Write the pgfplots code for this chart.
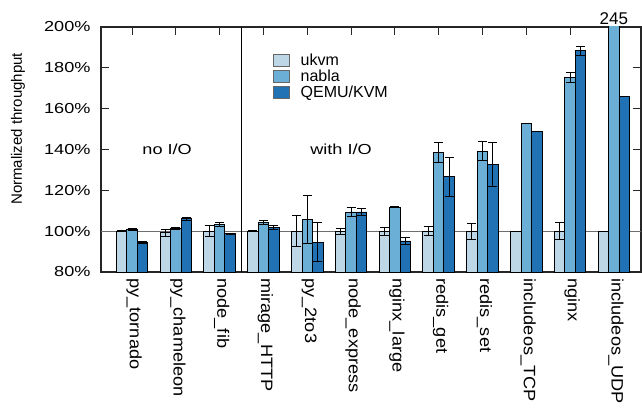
\documentclass[border=0pt]{standalone}
\usepackage{fontspec}
\setmainfont{Liberation Sans}
\newfontfamily\wide[FakeStretch=1.25]{Liberation Sans}
\newfontfamily\xwide[FakeStretch=1.1]{Liberation Sans}
\usepackage{pgfplots}
\usepackage{pgfplotstable}
\pgfplotsset{compat=1.18}
\definecolor{cuk}{RGB}{190,215,231}
\definecolor{cna}{RGB}{107,174,214}
\definecolor{cqe}{RGB}{33,113,181}
\definecolor{cgrid}{RGB}{110,110,110}

% x: 0 py_tornado, 1 py_chameleon, 2 node_fib, 3 mirage_HTTP, 4 py_2to3, 5 node_express,
%    6 nginx_large, 7 redis_get, 8 redis_set, 9 includeos_TCP, 10 nginx, 11 includeos_UDP
\pgfplotstableread{
x y e
0 100 0.3
1 99.2 1.6
2 100 2.8
3 100 0.3
4 100 7.5
5 100 1.5
6 100 2.0
7 100 2.3
8 100 4.0
9 100 0
10 100 4.1
11 100 0
}\tuk
\pgfplotstableread{
x y e
0 100.8 0.3
1 101.3 0.7
2 103.2 1.0
3 104.1 1.0
4 105.6 11.8
5 109.4 2.3
6 111.8 0.3
7 138.5 4.9
8 139.2 4.6
9 152.6 0
10 175.3 2.5
11 245 0
}\tna
\pgfplotstableread{
x y e
0 94.5 0.3
1 106.1 0.8
2 98.8 0.3
3 102.0 1.0
4 94.6 9.5
5 109.4 1.8
6 95.2 1.5
7 126.6 9.5
8 132.7 10.7
9 149.0 0
10 188.4 2.2
11 165.8 0
}\tqe

\pgfplotsset{
  mybar/.style={ybar, bar width=0.24, bar shift=0, draw=black, line width=0.9bp,
    legend image code/.code={\draw[##1, draw=black!60, line width=0.9bp] (0bp,-6bp) rectangle (16bp,6bp);
      \path[draw=none, fill=none] (16bp,0) -- (25bp,0);},
    error bars/y dir=both, error bars/y explicit,
    error bars/error bar style={black, line width=1bp},
    error bars/error mark options={rotate=90, black, mark size=4.5bp, line width=1bp}},
}

\begin{document}
\begin{tikzpicture}
\begin{axis}[
  scale only axis, width=540bp, height=245bp,
  xmin=-0.71, xmax=11.62, ymin=80, ymax=200,
  xtick={0,...,11},
  xticklabels={py\_tornado, py\_chameleon, node\_fib, mirage\_HTTP, py\_2to3, node\_express,
    nginx\_large, redis\_get, redis\_set, includeos\_TCP, nginx, includeos\_UDP},
  ytick={80,100,...,200},
  yticklabels={80\%,100\%,120\%,140\%,160\%,180\%,200\%},
  xtick pos=right, xticklabel pos=left, ytick pos=both, yticklabel pos=left,
  tick align=inside, major tick length=8bp,
  tick style={black!85, line width=1bp},
  axis line style={line width=1.2bp, black!85},
  clip mode=individual,
  ticklabel style={font=\wide\fontsize{14.5bp}{17bp}\selectfont},
  xticklabel style={font=\xwide\fontsize{16.5bp}{19bp}\selectfont, rotate=-90, anchor=west, xshift=3bp, yshift=2bp},
  yticklabel style={xshift=-7bp},
  ylabel={Normalized throughput},
  ylabel style={at={(rel axis cs:-0.1537,0.584)}, anchor=center, font=\fontsize{15bp}{18bp}\selectfont},
  legend style={at={(rel axis cs:0.3185,0.9)}, anchor=north west, draw=none, fill=none,
    font=\fontsize{16bp}{18bp}\selectfont, row sep=-1bp, inner sep=0pt,
    cells={anchor=west}},
]
\draw[cgrid, line width=1.2bp] (axis cs:-0.71,100) -- (axis cs:11.62,100);
\draw[black, line width=1bp] (axis cs:2.5,80) -- (axis cs:2.5,200);

\addplot[mybar, fill=cuk] table[x expr=\thisrow{x}-0.24, y=y, y error=e] {\tuk};
\addlegendentry{ukvm}
\addplot[mybar, fill=cna] table[x=x, y=y, y error=e] {\tna};
\addlegendentry{nabla}
\addplot[mybar, fill=cqe] table[x expr=\thisrow{x}+0.24, y=y, y error=e] {\tqe};
\addlegendentry{QEMU/KVM}

\node[font=\wide\fontsize{14.5bp}{17bp}\selectfont] at (axis cs:0.8,140) {no I/O};
\node[font=\wide\fontsize{14.5bp}{17bp}\selectfont] at (axis cs:4.77,140) {with I/O};
\node[font=\fontsize{17bp}{20bp}\selectfont, anchor=base, yshift=3bp, inner sep=0pt] at (axis cs:11,200) {245};
\path ([shift={(-101bp,-137bp)}]rel axis cs:0,0) rectangle ([shift={(1bp,27bp)}]rel axis cs:1,1);
\end{axis}
\end{tikzpicture}
\end{document}
